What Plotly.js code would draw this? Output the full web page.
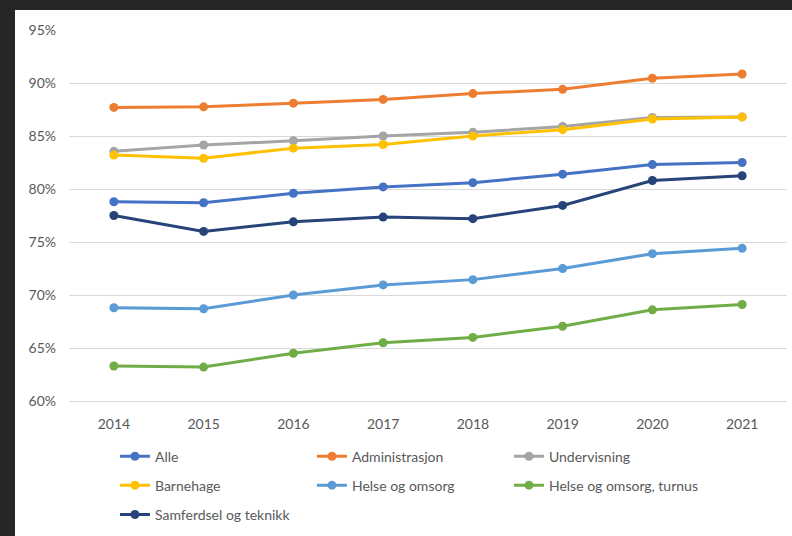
<!DOCTYPE html>
<html>
<head>
<meta charset="utf-8">
<script src="https://cdn.plot.ly/plotly-3.0.1.min.js"></script>
<style>
  html, body { margin: 0; padding: 0; background: #262626; width: 792px; height: 536px; overflow: hidden; }
  #chart { position: absolute; left: 15px; top: 10px; width: 777px; height: 526px; background: #ffffff; }
</style>
</head>
<body>
<div id="chart"></div>
<script>
const years = ['2014', '2015', '2016', '2017', '2018', '2019', '2020', '2021'];

const alle           = [78.8, 78.7, 79.6, 80.2, 80.6, 81.4, 82.3, 82.5];
const administrasjon = [87.7, 87.75, 88.1, 88.45, 89.0, 89.4, 90.45, 90.85];
const undervisning   = [83.55, 84.15, 84.55, 85.0, 85.35, 85.9, 86.75, 86.8];
const barnehage      = [83.2, 82.9, 83.85, 84.2, 85.0, 85.6, 86.6, 86.8];
const helseOmsorg    = [68.8, 68.7, 70.0, 70.95, 71.45, 72.5, 73.9, 74.4];
const helseTurnus    = [63.3, 63.2, 64.5, 65.5, 66.0, 67.05, 68.6, 69.1];
const samferdsel     = [77.5, 76.0, 76.9, 77.35, 77.2, 78.45, 80.8, 81.25];

const seriesNames = ['Alle', 'Administrasjon', 'Undervisning', 'Barnehage',
  'Helse og omsorg', 'Helse og omsorg, turnus', 'Samferdsel og teknikk'];
const seriesValues = [alle, administrasjon, undervisning, barnehage, helseOmsorg, helseTurnus, samferdsel];
const seriesColors = ['#4472C4', '#ED7D31', '#A5A5A5', '#FFC000', '#5B9BD5', '#70AD47', '#264478'];
const seriesLegend = ['legend', 'legend', 'legend', 'legend2', 'legend2', 'legend2', 'legend3'];

const yTicks = [60, 65, 70, 75, 80, 85, 90, 95];
const yTickText = yTicks.map(v => v + '%');

const traces = seriesNames.map((name, i) => ({
  type: 'scatter',
  mode: 'lines+markers',
  name: name,
  x: years,
  y: seriesValues[i],
  line: { color: seriesColors[i], width: 3 },
  marker: { color: seriesColors[i], size: 9 },
  legend: seriesLegend[i],
  hoverinfo: 'skip'
}));

const fontFamily = 'Lato, "Liberation Sans", sans-serif';
const legendBase = {
  orientation: 'h',
  x: 0.064,
  xanchor: 'left',
  yanchor: 'middle',
  entrywidth: 152,
  entrywidthmode: 'pixels',
  font: { family: fontFamily, size: 14, color: '#595959' },
  bgcolor: 'rgba(0,0,0,0)',
  borderwidth: 0
};

const layout = {
  width: 777,
  height: 526,
  paper_bgcolor: '#ffffff',
  plot_bgcolor: '#ffffff',
  margin: { l: 54, r: 5, t: 20, b: 124 },
  font: { family: fontFamily, size: 14, color: '#595959' },
  showlegend: true,
  xaxis: {
    type: 'category',
    range: [-0.5, 7.5],
    showgrid: false,
    showline: true,
    linecolor: '#D9D9D9',
    linewidth: 1,
    ticks: '',
    ticklabelstandoff: 10,
    tickfont: { family: fontFamily, size: 14, color: '#595959' },
    zeroline: false,
    fixedrange: true
  },
  yaxis: {
    range: [60, 95],
    tickvals: yTicks,
    ticktext: yTickText,
    showgrid: true,
    gridcolor: '#D9D9D9',
    gridwidth: 1,
    showline: false,
    zeroline: false,
    ticks: '',
    ticklabelstandoff: 12,
    tickfont: { family: fontFamily, size: 14, color: '#595959' },
    fixedrange: true
  },
  legend: Object.assign({}, legendBase, { y: -0.15 }),
  legend2: Object.assign({}, legendBase, { y: -0.228 }),
  legend3: Object.assign({}, legendBase, { y: -0.307 })
};

Plotly.newPlot('chart', traces, layout, { displayModeBar: false, staticPlot: true });
</script>
</body>
</html>
